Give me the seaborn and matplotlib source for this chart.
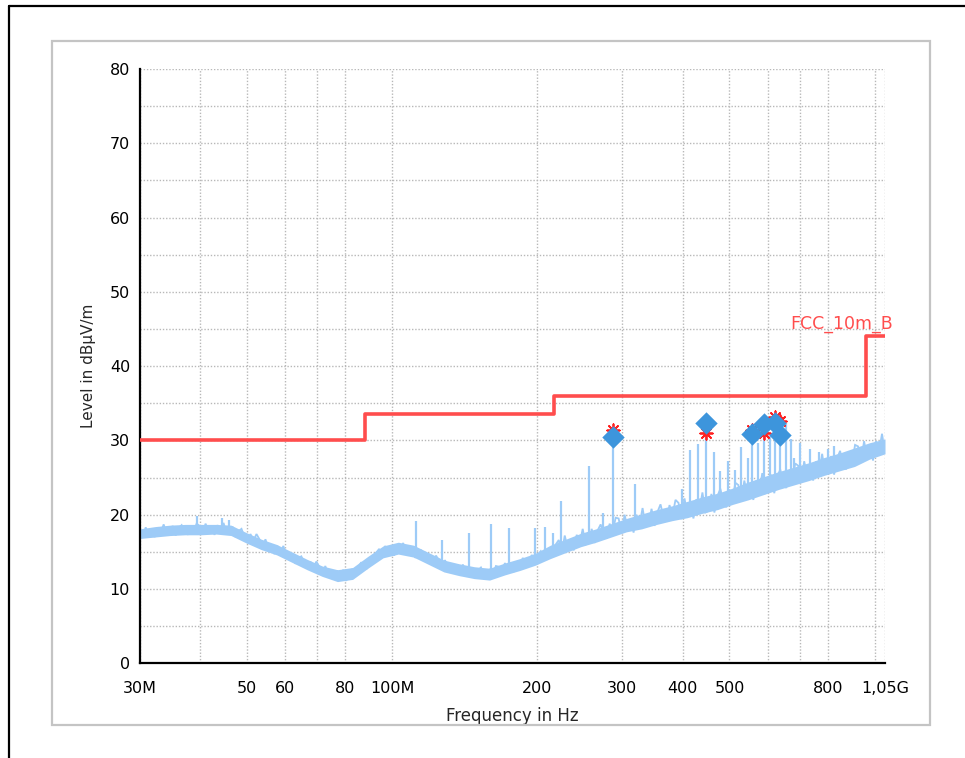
import numpy as np
import pandas as pd
import matplotlib
matplotlib.use("Agg")
import matplotlib.pyplot as plt
from matplotlib.lines import Line2D
from matplotlib.patches import Rectangle
from matplotlib.ticker import NullLocator
import seaborn as sns

# ---- data -------------------------------------------------------------
# Limit line FCC_10m_B (step edges in MHz and level in dBuV/m)
limit_freq = [30, 88, 216, 960, 1050]
limit_level = [30.0, 33.5, 36.0, 44.0, 44.0]

# Pre-scan trace, 250 sweep points from 30 MHz to 1.05 GHz (log sweep)
trace_level = [
    17.9, 17.0, 18.3, 17.3, 17.8, 17.0, 18.3, 17.6, 18.7, 17.4,
    17.5, 18.5, 17.2, 18.2, 18.6, 17.7, 17.4, 18.5, 17.7, 18.8,
    18.5, 17.5, 18.8, 17.7, 18.2, 17.3, 18.6, 17.8, 18.9, 17.5,
    17.6, 18.4, 17.0, 17.8, 18.1, 17.0, 16.5, 17.4, 16.5, 17.4,
    16.7, 15.5, 16.7, 15.4, 15.8, 14.7, 15.8, 14.9, 15.8, 14.3,
    14.0, 14.8, 13.4, 14.2, 14.4, 13.4, 12.8, 13.7, 12.8, 13.7,
    13.0, 11.9, 13.1, 11.9, 12.3, 11.3, 12.5, 11.6, 12.6, 11.2,
    11.5, 12.7, 11.7, 12.9, 13.6, 12.9, 12.8, 14.1, 13.6, 14.9,
    15.4, 14.5, 15.8, 14.8, 15.3, 14.5, 15.8, 15.1, 16.2, 14.9,
    14.8, 15.6, 14.2, 15.0, 15.2, 14.2, 13.6, 14.5, 13.6, 14.5,
    13.8, 12.7, 13.9, 12.7, 13.1, 12.1, 13.3, 12.3, 13.3, 11.8,
    11.8, 12.8, 11.5, 12.5, 12.9, 12.0, 11.6, 12.7, 12.0, 13.1,
    13.0, 12.1, 13.5, 12.5, 13.1, 12.3, 13.7, 13.0, 14.2, 13.0,
    13.4, 14.6, 13.4, 14.6, 15.1, 14.4, 14.1, 15.4, 14.7, 16.0,
    16.6, 14.8, 17.2, 15.5, 16.5, 15.2, 17.3, 16.1, 18.1, 16.0,
    16.2, 18.1, 16.2, 17.9, 18.7, 17.3, 16.8, 18.8, 17.6, 19.6,
    19.5, 17.5, 20.0, 18.2, 19.3, 17.6, 20.0, 18.7, 20.9, 18.5,
    18.7, 20.8, 18.5, 20.4, 21.4, 19.7, 19.1, 21.3, 19.9, 22.0,
    21.6, 19.4, 22.2, 20.1, 21.3, 19.5, 22.1, 20.6, 23.0, 20.3,
    20.5, 22.8, 20.3, 22.5, 23.5, 21.6, 21.0, 23.4, 21.9, 24.3,
    24.0, 21.8, 24.6, 22.6, 23.8, 22.0, 24.6, 23.1, 25.6, 22.9,
    23.1, 25.4, 22.9, 25.1, 26.1, 24.2, 23.6, 26.0, 24.5, 26.9,
    26.6, 24.4, 27.2, 25.2, 26.4, 24.6, 27.2, 25.7, 28.2, 25.5,
    25.6, 27.9, 25.4, 27.6, 28.6, 26.7, 26.1, 28.5, 27.0, 29.4,
    29.2, 27.0, 29.9, 27.8, 29.1, 27.3, 29.9, 28.5, 30.9, 28.3,
]
trace_freq = np.geomspace(30, 1050, len(trace_level))

# Min / max hold envelope of the same sweep (50 frequency bins)
env_low = [
    16.8, 17.0, 17.2, 17.3, 17.3, 17.4, 17.2, 16.2, 15.3, 14.6,
    13.6, 12.6, 11.7, 11.0, 11.3, 12.8, 14.2, 14.7, 14.3, 13.3,
    12.3, 11.8, 11.4, 11.2, 11.9, 12.5, 13.2, 14.1, 14.9, 15.7,
    16.3, 17.0, 17.7, 18.1, 18.7, 19.2, 19.6, 20.2, 20.7, 21.4,
    22.0, 22.7, 23.4, 24.0, 24.6, 25.3, 25.9, 26.5, 27.5, 28.2,
]
env_high = [
    18.1, 18.4, 18.6, 18.7, 18.7, 18.7, 18.6, 17.6, 16.7, 16.0,
    15.0, 14.0, 13.1, 12.6, 12.9, 14.4, 15.8, 16.3, 15.9, 14.9,
    13.9, 13.4, 13.0, 12.8, 13.5, 14.1, 14.8, 15.9, 16.7, 17.5,
    18.1, 18.8, 19.5, 20.1, 20.7, 21.2, 21.8, 22.4, 22.9, 23.6,
    24.4, 25.1, 25.8, 26.4, 27.0, 27.7, 28.3, 29.0, 29.7, 30.2,
]
env_freq = np.geomspace(30, 1050, len(env_low))

# Narrow-band emissions in the trace: frequency, top and floor level
spike_freq = [39.4, 44.4, 45.9, 112, 127, 144, 160, 175, 198, 207, 215,
              224, 256, 273, 287, 319, 399, 414, 431, 446, 464, 479, 497,
              514, 528, 545, 556, 573, 589, 608, 622, 637, 656, 670, 680,
              701, 733, 765, 799, 825]
spike_top = [19.8, 19.6, 19.3, 19.1, 16.6, 17.6, 18.7, 18.2, 18.2, 18.3, 17.5,
             21.8, 26.6, 20.2, 31.0, 24.1, 23.5, 28.7, 29.5, 31.0, 28.5, 25.9,
             27.3, 26.0, 29.1, 27.6, 31.0, 29.7, 31.0, 30.6, 32.5, 31.5, 32.4,
             30.2, 27.7, 29.7, 28.8, 28.4, 28.8, 29.3]
spike_floor = [18.0, 18.0, 17.9, 14.8, 13.6, 12.6, 12.1, 12.3, 14.2, 15.0, 15.2,
               15.6, 16.8, 17.4, 17.9, 18.9, 20.3, 20.6, 20.9, 21.2, 21.5, 21.8,
               22.0, 22.3, 22.6, 22.9, 23.1, 23.4, 23.7, 24.0, 24.3, 24.6, 24.9,
               25.1, 25.3, 25.6, 26.0, 26.5, 27.0, 27.3]

# Final measurement results (diamonds) and peak detector readings (stars)
final_freq = [287, 446, 556, 589, 622, 637]
final_level = [30.5, 32.3, 30.9, 32.2, 32.4, 30.7]
peak_freq = [287, 446, 556, 589, 622, 637]
peak_level = [31.4, 31.0, 31.4, 31.0, 33.1, 32.6]

x_ticks = [30, 40, 50, 60, 70, 80, 100, 200, 300, 400, 500, 600, 700, 800, 1000, 1050]
x_labels = ["30M", "", "50", "60", "", "80", "100M", "200", "300", "400", "500",
            "", "", "800", "", "1,05G"]
y_ticks = list(range(0, 81, 5))
y_labels = [str(v) if v % 10 == 0 else "" for v in y_ticks]

# ---- figure -----------------------------------------------------------
sns.set_style("white")
plt.rcParams["font.family"] = ["DejaVu Sans"]
plt.rcParams["path.simplify"] = False

fig = plt.figure(figsize=(9.65, 7.58), dpi=100)
ax = fig.add_axes([0.1448, 0.1249, 0.9171 - 0.1448, 0.909 - 0.1249])

trace_color = "#9dcbf7"
limit_color = "#ff4d4d"
final_color = "#3d95dc"

ax.fill_between(env_freq, env_low, env_high, color=trace_color, lw=0, zorder=2)
trace_df = pd.DataFrame({"freq": trace_freq, "level": trace_level})
sns.lineplot(data=trace_df, x="freq", y="level", ax=ax, color=trace_color,
             lw=1.3, estimator=None, sort=False, zorder=2,
             solid_joinstyle="miter")
ax.vlines(spike_freq, spike_floor, spike_top, color=trace_color, lw=1.6, zorder=2)

limit_df = pd.DataFrame({"freq": limit_freq, "level": limit_level})
sns.lineplot(data=limit_df, x="freq", y="level", ax=ax, color=limit_color,
             lw=2.6, estimator=None, drawstyle="steps-post", zorder=3)

sns.scatterplot(x=peak_freq, y=peak_level, ax=ax, marker=(8, 2, 0), s=80,
                color="#ff2020", linewidth=1.3, zorder=4)
sns.scatterplot(x=final_freq, y=final_level, ax=ax, marker="D", s=130,
                color=final_color, edgecolor=final_color, linewidth=0, zorder=5)

ax.text(667, 44.5, "FCC_10m_B", color=limit_color, fontsize=12.5,
        ha="left", va="bottom")

ax.set_xscale("log")
ax.set_xlim(30, 1050)
ax.set_ylim(0, 80)
ax.xaxis.set_minor_locator(NullLocator())
ax.set_xticks(x_ticks)
ax.set_xticklabels(x_labels)
ax.set_yticks(y_ticks)
ax.set_yticklabels(y_labels)

ax.tick_params(axis="both", direction="inout", length=10, width=1.5,
               colors="black", labelsize=11.5)
ax.tick_params(axis="x", pad=8)
ax.tick_params(axis="y", pad=2)

ax.grid(True, which="major", color="#b8b8b8", lw=1.0, ls=(0, (1, 1.3)))
ax.set_axisbelow(True)
for side in ("top", "right"):
    ax.spines[side].set_visible(False)
for side in ("left", "bottom"):
    ax.spines[side].set_color("black")
    ax.spines[side].set_linewidth(1.6)

ax.set_xlabel("Frequency in Hz", fontsize=12, labelpad=8)
ax.set_ylabel("Level in dBµV/m", fontsize=11, labelpad=10)

# Report panel frame and page border
fig.patches.append(Rectangle((52 / 965, 1 - 725 / 758), (930 - 52) / 965,
                             (725 - 41) / 758, transform=fig.transFigure,
                             fill=False, edgecolor="#c4c4c4", lw=1.6, zorder=0))
fig.lines.append(Line2D([8.5 / 965, 8.5 / 965], [0, 1 - 6 / 758],
                        transform=fig.transFigure, color="black", lw=1.6))
fig.lines.append(Line2D([8.5 / 965, 1], [1 - 6 / 758, 1 - 6 / 758],
                        transform=fig.transFigure, color="black", lw=1.6))

fig.savefig("out.png", dpi=100)
